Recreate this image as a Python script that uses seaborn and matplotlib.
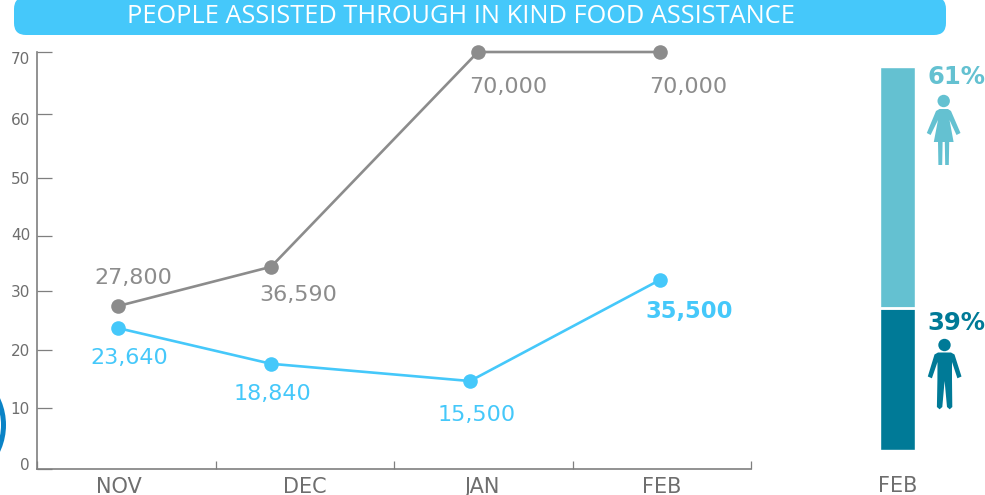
import pandas as pd
import matplotlib.pyplot as plt
import seaborn as sns
from matplotlib.patches import Circle, FancyBboxPatch, Polygon
from matplotlib.transforms import ScaledTranslation

# ----- Data ----- #
months = ['NOV', 'DEC', 'JAN', 'FEB']
title_text = 'PEOPLE ASSISTED THROUGH IN KIND FOOD ASSISTANCE'

# the points are not centred on the months in the original, so x is read too
target_x = [0.454, 1.311, 2.47, 3.49]
target_y = [27.3, 33.9, 70, 70]
target_labels = ['27,800', '36,590', '70,000', '70,000']

reached_x = [0.454, 1.311, 2.426, 3.49]
reached_y = [23.6, 17.6, 14.7, 31.7]
reached_labels = ['23,640', '18,840', '15,500', '35,500']

# y ticks in the original are unevenly spaced
ytick_at = [0, 10.17, 19.9, 29.75, 39.0, 48.9, 59.66, 70]
ytick_labels = ['0', '10', '20', '30', '40', '50', '60', '70']
xtick_at = [0, 1, 2, 3, 4]
month_label_at = [0.457, 1.5, 2.49, 3.5]

share_month = ['FEB']
men_bar = [37.2]
women_bar = [62.8]
women_text = '61%'
men_text = '39%'

GREY = '#8c8c8c'
BLUE = '#45c8fa'
AXIS = '#7f7f7f'
TICK_TEXT = '#6e6e6e'
WOMEN = '#64c1d1'
MEN = '#007a97'

W, H = 985, 495


def px_box(left, top, right, bottom):
    return [left / W, 1 - bottom / H, (right - left) / W, (bottom - top) / H]


sns.set_theme(style='white')
plt.rcParams['font.family'] = ['DejaVu Sans']

fig = plt.figure(figsize=(W / 100, H / 100), dpi=100, facecolor='white')

# ----- Line chart ----- #
ax = fig.add_axes(px_box(37, 52, 751, 468.5))
line_df = pd.DataFrame({
    'x': target_x + reached_x,
    'y': target_y + reached_y,
    'series': ['target'] * 4 + ['reached'] * 4,
})
sns.lineplot(data=line_df, x='x', y='y', hue='series', estimator=None, sort=False,
             palette={'target': GREY, 'reached': BLUE}, linewidth=1.9, marker='o',
             markersize=10.5, markeredgewidth=0, legend=False, ax=ax, clip_on=False, zorder=3)
ax.set_xlim(0, 4)
ax.set_ylim(0, 70)
ax.set_xlabel('')
ax.set_ylabel('')
sns.despine(ax=ax)
for side in ['left', 'bottom']:
    ax.spines[side].set_color(AXIS)
    ax.spines[side].set_linewidth(1.2)

ax.set_yticks(ytick_at, ytick_labels)
ax.tick_params(axis='y', direction='in', length=11, width=0.9, color=AXIS, left=True,
               labelsize=11, labelcolor=TICK_TEXT, pad=5)
# tick labels sit evenly although the ticks do not
label_shift_px = [4, 0, 0, 0, 2, 0, -5.5, -6]
for lab, shift in zip(ax.get_yticklabels(), label_shift_px):
    lab.set_transform(lab.get_transform() + ScaledTranslation(0, shift / 100, fig.dpi_scale_trans))

ax.set_xticks(xtick_at, [''] * 5)
ax.tick_params(axis='x', which='major', direction='in', length=6, width=0.9, color=AXIS, bottom=True)
ax.set_xticks(month_label_at, months, minor=True)
ax.tick_params(axis='x', which='minor', length=0, labelsize=15, labelcolor=TICK_TEXT, pad=6)

# value labels, offsets in pixels from the point
target_off = [(15, 28), (27, -28), (30, -35), (28, -35)]
reached_off = [(11, -30), (1, -30), (7, -34), (29, -32)]
for x, y, txt, off in zip(target_x, target_y, target_labels, target_off):
    ax.annotate(txt, (x, y), xytext=(off[0] * 0.72, off[1] * 0.72), textcoords='offset points',
                ha='center', va='center', fontsize=16, color=GREY, annotation_clip=False)
for i, (x, y, txt, off) in enumerate(zip(reached_x, reached_y, reached_labels, reached_off)):
    ax.annotate(txt, (x, y), xytext=(off[0] * 0.72, off[1] * 0.72), textcoords='offset points',
                ha='center', va='center', fontsize=16.3 if i == 3 else 16, color=BLUE,
                annotation_clip=False, fontweight='bold' if i == 3 else 'normal')

# ----- Share bar ----- #
ax2 = fig.add_axes(px_box(845, 67, 950, 450))
sns.barplot(x=share_month, y=men_bar, color=MEN, width=1 / 3, saturation=1, ax=ax2)
sns.barplot(x=share_month, y=women_bar, bottom=men_bar, color=WOMEN, width=1 / 3, saturation=1, ax=ax2)
ax2.axhline(men_bar[0], color='white', linewidth=2, zorder=5)
ax2.set_ylim(0, 100)
ax2.set_ylabel('')
ax2.set_yticks([])
sns.despine(ax=ax2, left=True, bottom=True)
ax2.tick_params(axis='x', length=0, labelsize=15, labelcolor=TICK_TEXT, pad=19)

# ----- Header, icons and percentages in pixel coordinates ----- #
over = fig.add_axes([0, 0, 1, 1], zorder=10)
over.set_xlim(0, W)
over.set_ylim(H, 0)
over.axis('off')
over.patch.set_alpha(0)

over.add_patch(FancyBboxPatch((14, -3), 932, 38, boxstyle='round,pad=0,rounding_size=12',
                              facecolor=BLUE, edgecolor='none'))
over.text(460.5, 16.5, title_text, color='white', fontsize=18.3, ha='center', va='center',
          family='Open Sans')

# part of a logo ring cut off at the left edge
over.add_patch(Circle((-57, 425), 60.5, fill=False, edgecolor='#0a83c6', linewidth=3.6))

over.text(956.5, 76.5, women_text, color=WOMEN, fontsize=17.5, fontweight='bold', ha='center', va='center')
over.text(956.5, 322.5, men_text, color=MEN, fontsize=17.5, fontweight='bold', ha='center', va='center')

# woman icon
over.add_patch(Circle((943.7, 101), 6.2, color=WOMEN, lw=0))
over.add_patch(Polygon([(939.5, 109), (948, 109), (951, 111), (960.5, 133), (956.5, 135), (949.5, 120),
                        (953.6, 142), (949.2, 142), (948.8, 165), (945.2, 165), (944.8, 142), (942.6, 142),
                        (942.2, 165), (938.4, 165), (938, 142), (933.8, 142), (938, 120), (930.6, 135),
                        (926.8, 133), (936, 111)], color=WOMEN, lw=0))
# man icon
over.add_patch(Circle((944.5, 345), 6.2, color=MEN, lw=0))
over.add_patch(Polygon([(938, 352.5), (951, 352.5), (954.5, 354.5), (961.5, 376.5), (957.4, 378.3), (952, 362),
                        (952, 380), (952.3, 407), (949.7, 409.3), (947, 407), (944.6, 381), (942.3, 407),
                        (939.6, 409.3), (936.9, 407), (937.4, 380), (937.5, 362), (931.9, 378.3),
                        (927.8, 376.5), (934.5, 354.5)], color=MEN, lw=0))

fig.savefig('out.png', dpi=100)
